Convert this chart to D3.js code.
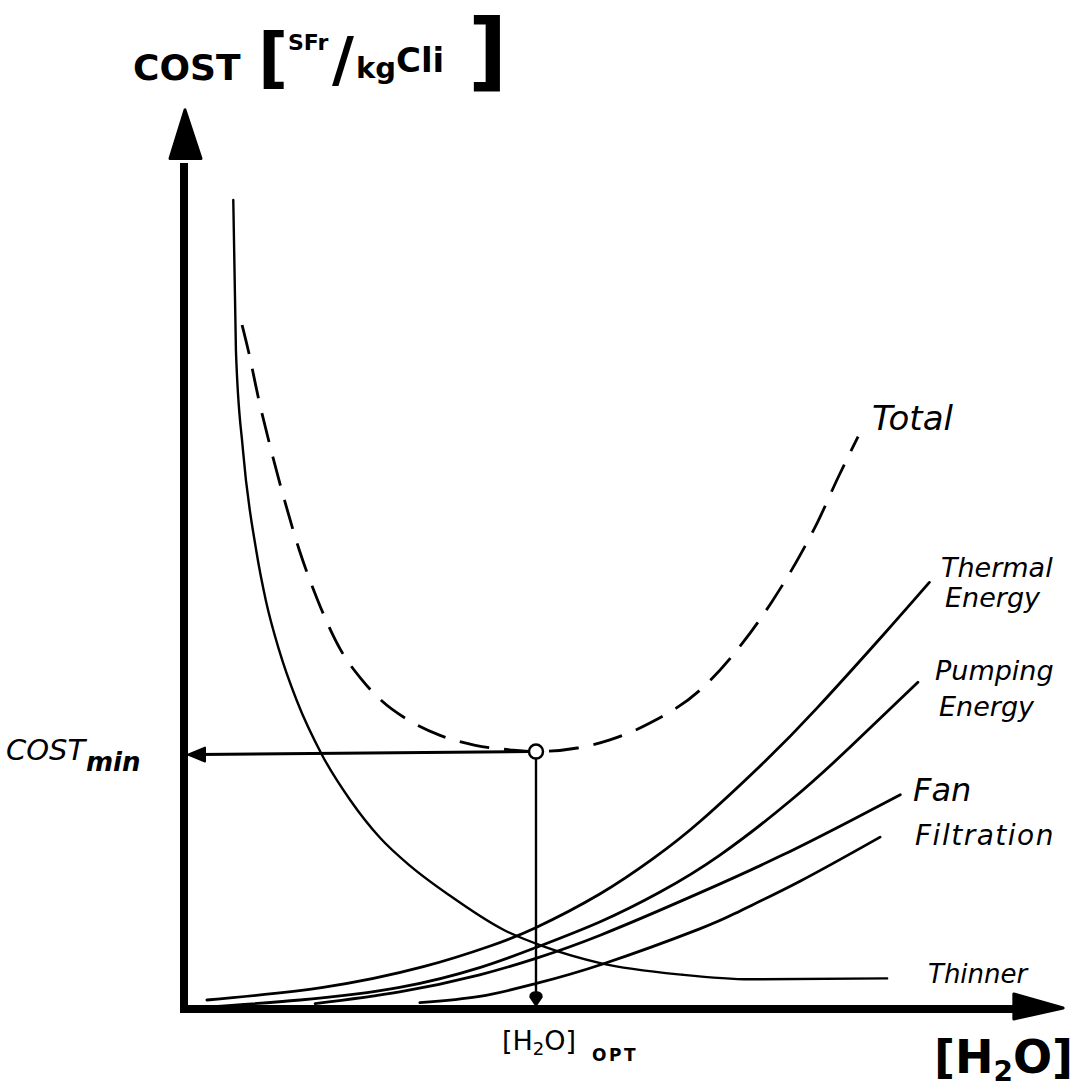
<!DOCTYPE html>
<html><head><meta charset="utf-8">
<script src="https://cdn.jsdelivr.net/npm/d3@7"></script>
<style>html,body{margin:0;padding:0;background:#fff;} svg{display:block}</style>
</head><body>
<svg id="chart" width="1078" height="1088"></svg>
<script>
// ---- data (arbitrary cost units vs. water content) ----
const totalX   = [0.66,0.73,0.85,0.99,1.14,1.31,1.52,1.78,2.02,2.24,2.55,2.91,3.31,3.70,3.99,4.47,4.84,5.30,5.86,6.35,6.69,7.00,7.20,7.43,7.66];
const totalY   = [7.60,7.32,6.77,6.21,5.66,5.10,4.54,3.99,3.66,3.43,3.21,3.04,2.93,2.88,2.86,2.90,2.99,3.18,3.54,4.07,4.54,5.04,5.41,5.90,6.36];
const thermalX = [0.26,1.58,2.72,3.48,3.99,4.73,5.33,5.86,6.60,7.19,7.94,8.47];
const thermalY = [0.10,0.24,0.47,0.70,0.90,1.28,1.67,2.08,2.75,3.34,4.15,4.74];
const pumpingX = [0.22,1.32,2.45,3.36,3.99,4.73,5.41,6.09,6.91,7.57,8.34];
const pumpingY = [0.02,0.10,0.24,0.46,0.68,0.97,1.30,1.71,2.33,2.91,3.63];
const fanX     = [1.49,2.45,3.36,3.99,4.73,5.86,6.80,7.57,8.14];
const fanY     = [0.06,0.19,0.38,0.56,0.82,1.29,1.71,2.09,2.38];
const filtX    = [2.68,3.36,3.99,4.76,5.86,6.32,7.00,7.91];
const filtY    = [0.07,0.14,0.28,0.50,0.89,1.09,1.42,1.91];
const thinnerX = [0.56,0.59,0.67,0.82,0.93,1.08,1.28,1.57,1.89,2.23,2.57,3.02,3.63,4.10,4.73,5.67,6.43,7.99];
const thinnerY = [8.99,7.32,6.21,5.10,4.54,3.99,3.43,2.82,2.32,1.90,1.59,1.26,0.88,0.69,0.51,0.38,0.33,0.34];
const optimumX = 4.0;   // [H2O]opt
const optimumY = 2.86;  // COST min
const seriesLabels = ["Total","Thermal","Energy","Pumping","Energy","Fan","Filtration","Thinner"];

// ---- scales ----
const svg = d3.select("#chart");
const x = d3.scaleLinear().domain([0,10]).range([184,1064]);
const y = d3.scaleLinear().domain([0,10]).range([1009,109]);
const zip = (xs,ys) => xs.map((v,i)=>[v,ys[i]]);
const line = d3.line().x(d=>x(d[0])).y(d=>y(d[1])).curve(d3.curveMonotoneX);
const smooth = d3.line().x(d=>x(d[0])).y(d=>y(d[1])).curve(d3.curveNatural);

// ---- axes (hand-drawn style, thick with arrowheads) ----
const ax = svg.append("g");
ax.append("line").attr("x1",x(0)).attr("x2",x(0)).attr("y1",y(0)+4).attr("y2",y(9.4))
  .attr("stroke","#000").attr("stroke-width",8);
ax.append("path")
  .attr("d",`M${x(0)+1},${y(9.99)} L${x(0)-14},${y(9.45)} L${x(0)+17},${y(9.45)} Z`)
  .attr("fill","#000").attr("stroke","#000").attr("stroke-width",3).attr("stroke-linejoin","round");
ax.append("line").attr("x1",x(0)-4).attr("x2",x(9.5)).attr("y1",y(0)).attr("y2",y(0))
  .attr("stroke","#000").attr("stroke-width",8);
ax.append("path")
  .attr("d",`M${x(9.99)},${y(0)-1} L${x(9.43)},${y(0)-15} L${x(9.43)},${y(0)+10} Z`)
  .attr("fill","#000").attr("stroke","#000").attr("stroke-width",3).attr("stroke-linejoin","round");

// ---- curves ----
const g = svg.append("g").attr("fill","none").attr("stroke","#000").attr("stroke-linecap","round");
g.append("path").attr("d",line(zip(thinnerX,thinnerY))).attr("stroke-width",2.4);
g.append("path").attr("d",smooth(zip(thermalX,thermalY))).attr("stroke-width",2.8);
g.append("path").attr("d",smooth(zip(pumpingX,pumpingY))).attr("stroke-width",2.8);
g.append("path").attr("d",smooth(zip(fanX,fanY))).attr("stroke-width",2.8);
g.append("path").attr("d",smooth(zip(filtX,filtY))).attr("stroke-width",2.8);
g.append("path").attr("d",line(zip(totalX,totalY))).attr("stroke-width",2.8)
  .attr("stroke-dasharray","30,15").attr("stroke-linecap","butt");

// ---- optimum construction lines ----
const ox = x(optimumX), oy = y(optimumY);
g.append("line").attr("x1",ox-7).attr("x2",x(0)+14).attr("y1",oy).attr("y2",oy+3).attr("stroke-width",3);
svg.append("path").attr("d",`M${x(0)+4},${oy+3} L${x(0)+21},${oy-4} L${x(0)+21},${oy+10} Z`)
  .attr("fill","#000").attr("stroke","#000").attr("stroke-width",2).attr("stroke-linejoin","round");
g.append("line").attr("x1",ox).attr("x2",ox).attr("y1",oy+7).attr("y2",y(0)-10).attr("stroke-width",2.4);
svg.append("path").attr("d",`M${ox},${y(0)-3} L${ox-6},${y(0)-12} Q${ox-6},${y(0)-17} ${ox},${y(0)-17} Q${ox+6},${y(0)-17} ${ox+6},${y(0)-12} Z`)
  .attr("fill","#000").attr("stroke","#000").attr("stroke-width",1.5);
svg.append("circle").attr("cx",ox).attr("cy",oy).attr("r",7)
  .attr("fill","#fff").attr("stroke","#000").attr("stroke-width",2.5);

// ---- text ----
const hand = "'DejaVu Sans', sans-serif";
function txt(s,px,py,size,opts={}){
  const t = svg.append("text").attr("x",px).attr("y",py).text(s)
    .attr("font-family",hand).attr("font-size",size).attr("fill","#000");
  if(opts.bold) t.attr("font-weight","bold");
  if(opts.italic) t.attr("font-style","italic");
  if(opts.ls) t.attr("letter-spacing",opts.ls);
  return t;
}
// title
txt("COST",133,80,36,{bold:true});
txt("[",258,80,66,{bold:true});
txt("SFr",288,50,22,{bold:true});
txt("/",332,80,60,{bold:true});
txt("kg",356,78,29,{bold:true});
txt("Cli",396,72,34,{bold:true});
txt("]",468,80,86,{bold:true});

// series labels
txt(seriesLabels[0],872,430,34,{italic:true});
txt(seriesLabels[1],941,577,27,{italic:true});
txt(seriesLabels[2],945,607,27,{italic:true});
txt(seriesLabels[3],935,680,27,{italic:true});
txt(seriesLabels[4],939,716,27,{italic:true});
txt(seriesLabels[5],913,801,32,{italic:true});
txt(seriesLabels[6],915,845,28,{italic:true,ls:1.5});
txt(seriesLabels[7],928,983,26,{italic:true});

// COST min
txt("COST",6,760,29,{italic:true});
txt("min",86,771,26,{italic:true,bold:true});

// [H2O]opt
const t1 = svg.append("text").attr("x",502).attr("y",1050).attr("font-family",hand).attr("font-size",27);
t1.append("tspan").text("[H");
t1.append("tspan").text("2").attr("font-size",18).attr("dy",5);
t1.append("tspan").text("O]").attr("dy",-5);
txt("OPT",592,1061,17,{bold:true,ls:2.5});

// [H2O] axis title
const t2 = svg.append("text").attr("x",934).attr("y",1073).attr("font-family",hand)
  .attr("font-size",46).attr("font-weight","bold");
t2.append("tspan").text("[H");
t2.append("tspan").text("2").attr("font-size",28).attr("dy",8);
t2.append("tspan").text("O]").attr("dy",-8);
</script>
</body></html>
